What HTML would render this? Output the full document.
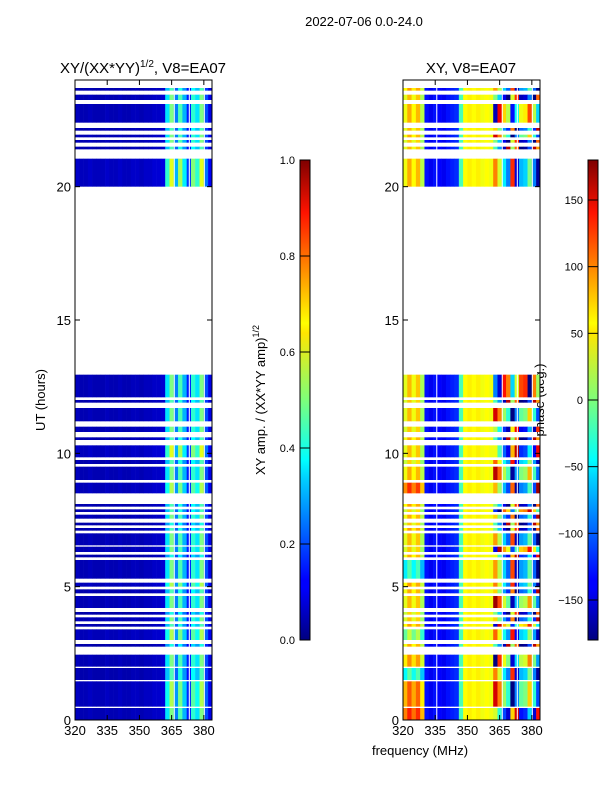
<!DOCTYPE html>
<html><head><meta charset="utf-8"><style>
body{margin:0;background:#fff;}
svg text{font-family:"Liberation Sans","DejaVu Sans",sans-serif;fill:#000;}
</style></head><body>
<svg id="fig" width="600" height="800" xmlns="http://www.w3.org/2000/svg">
<defs>
<linearGradient id="jetv" x1="0" y1="1" x2="0" y2="0">
<stop offset="0" stop-color="#00007f"/><stop offset="0.11" stop-color="#0000ff"/><stop offset="0.125" stop-color="#0000ff"/>
<stop offset="0.34" stop-color="#00d4ff"/><stop offset="0.375" stop-color="#0ff"/><stop offset="0.5" stop-color="#7dff7a"/>
<stop offset="0.64" stop-color="#ffe600"/><stop offset="0.66" stop-color="#ff0"/><stop offset="0.89" stop-color="#ff1300"/>
<stop offset="1" stop-color="#7f0000"/></linearGradient>
</defs>
<text x="364" y="26" font-size="13" text-anchor="middle">2022-07-06 0.0-24.0</text>
<text x="143" y="73" font-size="15" text-anchor="middle">XY/(XX*YY)<tspan font-size="10" dy="-6">1/2</tspan><tspan dy="6">, V8=EA07</tspan></text>
<text x="471" y="73" font-size="15" text-anchor="middle">XY, V8=EA07</text>
<text transform="translate(45,400) rotate(-90)" font-size="13" text-anchor="middle">UT (hours)</text>
<text x="420" y="755" font-size="13" text-anchor="middle">frequency (MHz)</text>
<text transform="translate(265,400) rotate(-90)" font-size="13" text-anchor="middle">XY amp. / (XX*YY amp)<tspan font-size="9" dy="-6">1/2</tspan></text>
<text transform="translate(544,400) rotate(-90)" font-size="13" text-anchor="middle">phase (deg.)</text>
<g id="plots"></g>
</svg>
<script>
// data-present time blocks (hours)
const blockStart=[0,0.5,1.5,2.0,2.75,3.0,3.5,3.7,3.95,4.2,4.75,5.0,5.3,6.1,6.3,6.55,7.1,7.3,7.55,7.8,8.0,8.5,9.0,9.6,9.85,10.5,10.8,11.2,11.9,12.1,20.0,21.4,21.65,21.85,22.1,22.4,23.25,23.6];
const blockEnd=[0.45,1.45,1.95,2.45,2.85,3.4,3.6,3.85,4.05,4.65,4.9,5.15,6.0,6.2,6.5,7.0,7.2,7.4,7.7,7.9,8.1,8.9,9.5,9.75,10.3,10.6,11.0,11.7,12.0,12.95,21.05,21.5,21.75,21.95,22.2,23.1,23.45,23.7];
// frequency channel bins (MHz, 2 MHz wide)
const freqBins=[320,322,324,326,328,330,332,334,336,338,340,342,344,346,348,350,352,354,356,358,360,362,364,366,368,370,372,374,376,378,380,382];
// amplitude profile per bin
const ampProfile=[0.06,0.05,0.05,0.06,0.05,0.05,0.05,0.06,0.05,0.05,0.06,0.05,0.05,0.06,0.06,0.05,0.06,0.06,0.07,0.07,0.08,0.35,0.5,0.25,0.45,0.3,0.15,0.42,0.35,0.5,0.2,0.1];
// phase profile per bin (deg)
const phaseProfile=[60,50,70,40,20,-130,-140,-130,-135,-140,-130,-125,-120,-20,45,50,45,50,40,45,40,-60,-120,160,120,-30,60,140,150,-150,120,40];
// per-block phase modulation (deg) for low band and high band
const lowPhase=[160,120,-110,80,60,-40,70,40,30,50,60,70,-120,60,40,50,70,40,60,30,70,150,60,30,50,60,40,50,40,50,60,50,40,60,50,60,50,70];
const highPhase=[90,-150,150,-120,40,160,-90,120,60,-130,120,150,140,100,-80,140,60,40,120,-60,60,130,-140,160,100,40,80,-150,40,-30,150,40,60,-150,120,-100,60,140];
// per-block amplitude scale
const ampScale=[1.0,1.1,0.9,1.0,0.8,1.1,0.9,1.0,0.8,1.0,0.9,1.1,1.0,0.8,1.0,1.0,0.9,0.8,1.0,0.9,0.9,1.1,1.0,0.9,1.2,0.9,1.0,1.0,0.9,1.0,1.2,0.9,1.0,1.0,0.9,1.0,1.0,0.9];

function jet(v){v=Math.max(0,Math.min(1,v));
 const r=Math.min(4*v-1.5,-4*v+4.5),g=Math.min(4*v-0.5,-4*v+3.5),b=Math.min(4*v+0.5,-4*v+2.5);
 const c=x=>Math.round(255*Math.max(0,Math.min(1,x)));return `rgb(${c(r)},${c(g)},${c(b)})`;}
const NS="http://www.w3.org/2000/svg";
const root=document.getElementById('plots');
function el(t,a,p){const e=document.createElementNS(NS,t);for(const k in a)e.setAttribute(k,a[k]);(p||root).appendChild(e);return e;}
const y0=720,y1=80, yScale=h=>y0-(h/24)*(y0-y1);
function panel(px,kind){
 const w=137,xs=f=>px+(f-320)/(383.8-320)*w;
 const g=el('g',{});
 
 
 for(let b=0;b<blockStart.length;b++){
  const ya=yScale(blockEnd[b]),yb=yScale(blockStart[b]);
  for(let i=0;i<freqBins.length;i++){
   let v;
   if(kind==='amp'){v=ampProfile[i]*ampScale[b];}
   else{let p=phaseProfile[i];
    if(i<5)p=(p+lowPhase[b])/2+ (i%2?20:-20);
    else if(i>=21)p=((p+highPhase[b]+540)%360)-180;
    v=(p+180)/360;}
   const x=xs(freqBins[i]),x2=xs(Math.min(freqBins[i]+2,383.8));
   const r=el('rect',{x:x.toFixed(2),y:ya.toFixed(2),width:(x2-x+0.3).toFixed(2),height:(yb-ya).toFixed(2),fill:jet(v)},g);
   
   
  }
 }
 // white flagged channel lines
 [335.5,366,373,380].forEach(f=>{if(kind==='amp'&&f===335.5)return;el('rect',{x:xs(f),y:y1,width:1,height:y0-y1,fill:'#fff'},g);});
 const frame=el('rect',{x:px,y:y1,width:w,height:y0-y1,fill:'none',stroke:'#000','stroke-width':1});
 
 
 [320,335,350,365,380].forEach(f=>{const x=xs(f);
  el('line',{x1:x,y1:y0,x2:x,y2:y0-5,stroke:'#000'});el('line',{x1:x,y1:y1,x2:x,y2:y1+5,stroke:'#000'});
  const t=el('text',{x:x,y:y0+15,'font-size':13,'text-anchor':'middle'});t.textContent=f;
  
  });
 [0,5,10,15,20].forEach(h=>{const y=yScale(h);
  el('line',{x1:px,y1:y,x2:px+5,y2:y,stroke:'#000'});el('line',{x1:px+w,y1:y,x2:px+w-5,y2:y,stroke:'#000'});
  const t=el('text',{x:px-4,y:y+5,'font-size':13,'text-anchor':'end'});t.textContent=h;
  
  });
}
panel(75,'amp');panel(403,'phase');
const ampTicks=[0.0,0.2,0.4,0.6,0.8,1.0];
const phaseTicks=[-150,-100,-50,0,50,100,150];
function cbar(x,ticks,lo,hi,name,fmt){
 const r=el('rect',{x:x,y:160,width:10,height:480,fill:'url(#jetv)',stroke:'#000','stroke-width':1});
 
 
 ticks.forEach(v=>{const y=640-(v-lo)/(hi-lo)*480;
  el('line',{x1:x,y1:y,x2:x+10,y2:y,stroke:'#000'});
  const t=el('text',{x:x-5,y:y+4,'font-size':11,'text-anchor':'end'});t.textContent=fmt(v);
  
  });
}
cbar(300,ampTicks,0,1,'amp-colorbar',v=>v.toFixed(1));
cbar(588,phaseTicks,-180,180,'phase-colorbar',v=>v<0?'\u2212'+(-v):String(v));
</script>
</body></html>
